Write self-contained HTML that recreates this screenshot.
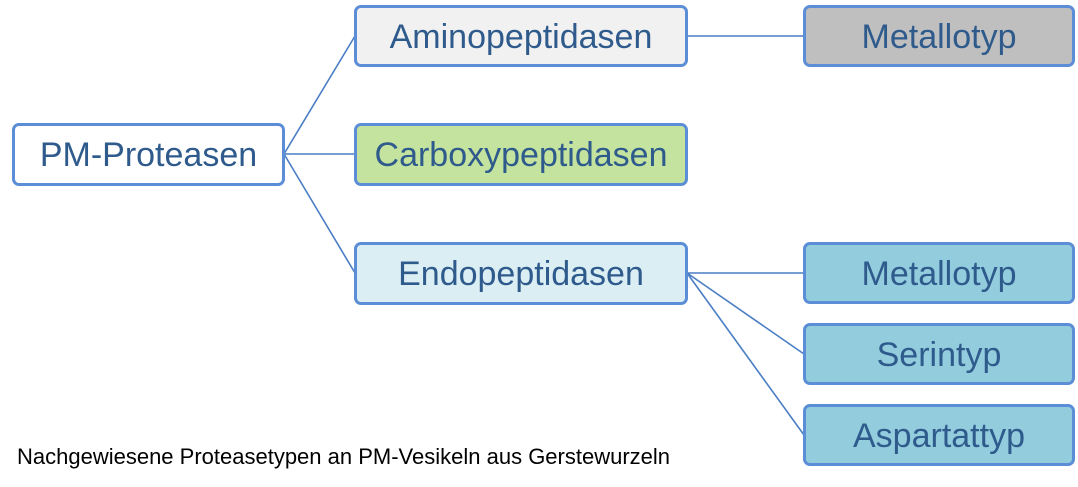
<!DOCTYPE html>
<html><head><meta charset="utf-8"><style>
body{margin:0;width:1078px;height:487px;background:#fff;position:relative;overflow:hidden;font-family:"Liberation Sans",sans-serif}
.b{position:absolute;box-sizing:border-box;border:3px solid #5B8ED6;border-radius:7px;color:#2E5A8C;font-size:34px;display:flex;align-items:center;justify-content:center;padding-top:2px}
svg{position:absolute;left:0;top:0}
.cap{position:absolute;left:17px;top:444px;font-size:22px;color:#000;white-space:nowrap}
</style></head><body>
<svg width="1078" height="487"><g stroke="#4A7EC4" stroke-width="1.6" fill="none">
<line x1="284" y1="154" x2="355" y2="36"/><line x1="284" y1="154" x2="355" y2="154"/><line x1="284" y1="154" x2="355" y2="273"/>
<line x1="687" y1="36" x2="804" y2="36"/>
<line x1="687" y1="273" x2="804" y2="273"/><line x1="687" y1="273" x2="804" y2="354"/><line x1="687" y1="273" x2="804" y2="435"/>
</g></svg>
<div class="b" style="left:12px;top:123px;width:273px;height:63px;background:#fff">PM-Proteasen</div>
<div class="b" style="left:354px;top:5px;width:334px;height:62px;background:#F1F1F1">Aminopeptidasen</div>
<div class="b" style="left:354px;top:123px;width:334px;height:63px;background:#C4E39E">Carboxypeptidasen</div>
<div class="b" style="left:354px;top:242px;width:334px;height:63px;background:#DBEEF4">Endopeptidasen</div>
<div class="b" style="left:803px;top:5px;width:272px;height:62px;background:#BFBFBF">Metallotyp</div>
<div class="b" style="left:803px;top:242px;width:272px;height:62px;background:#93CDDD">Metallotyp</div>
<div class="b" style="left:803px;top:323px;width:272px;height:62px;background:#93CDDD">Serintyp</div>
<div class="b" style="left:803px;top:404px;width:272px;height:62px;background:#93CDDD">Aspartattyp</div>
<div class="cap">Nachgewiesene Proteasetypen an PM-Vesikeln aus Gerstewurzeln</div>
</body></html>
